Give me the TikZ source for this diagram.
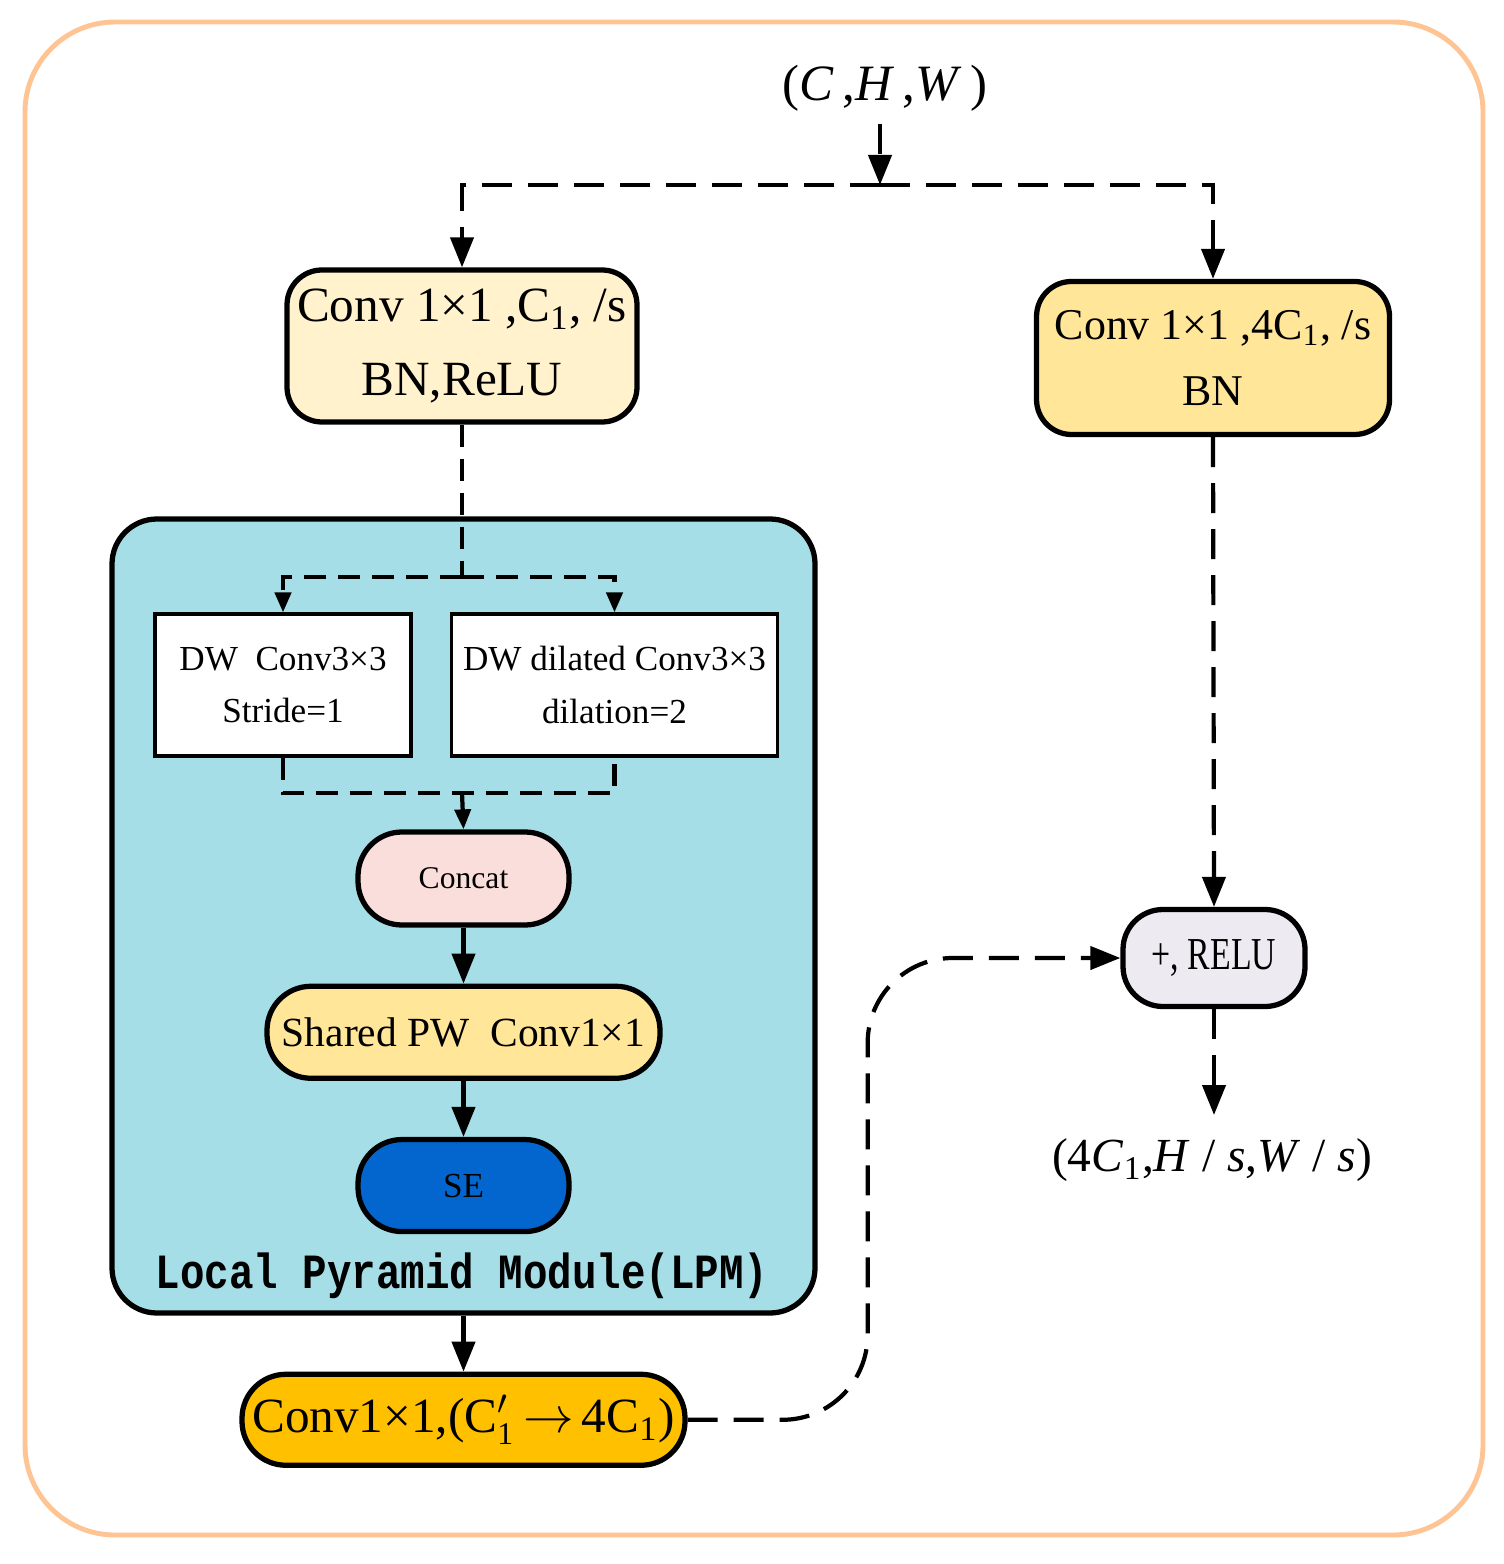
\documentclass[tikz,border=0pt]{standalone}
\usepackage{fontspec}
\setmainfont{Liberation Serif}
\newfontfamily\lpmfont{Liberation Mono}[FakeStretch=0.83]
\newfontfamily\narrowfont{Liberation Serif}[FakeStretch=0.74]
\usetikzlibrary{arrows.meta,positioning,calc}
\definecolor{FramePeach}{RGB}{255,196,148}
\definecolor{CreamFill}{RGB}{255,242,204}
\definecolor{GoldLight}{RGB}{255,230,153}
\definecolor{GoldDeep}{RGB}{255,192,0}
\definecolor{LpmBlue}{RGB}{166,222,232}
\definecolor{ConcatPink}{RGB}{250,222,220}
\definecolor{SeBlue}{RGB}{3,102,206}
\definecolor{ReluGrey}{RGB}{238,234,242}
\newcommand{\Cone}{C\textsubscript{1}}
\newcommand{\Cprime}{C$^{\prime}_{\hbox{\fontsize{9}{9}\selectfont 1}}$}

\begin{document}
\begin{tikzpicture}[
  x=0.1mm, y=-0.1mm,
  font=\fontsize{10}{15}\selectfont,
  blockbox/.style={draw, line width=1.5pt, rounded corners=3.5mm, align=center, inner sep=2pt},
  pill/.style={blockbox, rounded corners=4.4mm},
  dwbox/.style={draw, line width=0.9pt, fill=white, align=center, minimum height=14.2mm},
  arr/.style={-{Triangle[length=3mm,width=2.3mm]}, line width=1.2pt},
  dasharr/.style={arr, dash pattern=on 3mm off 1.6mm},
  dashline/.style={line width=1.2pt, dash pattern=on 2.2mm off 1.2mm},
  smallarr/.style={dashline, -{Triangle[length=2mm,width=1.6mm]}},
]
\useasboundingbox (0,0) rectangle (1503,1564);
\draw[FramePeach, line width=1.4pt, rounded corners=9mm] (25,22) rectangle (1483,1535);

% input and the two branches
\node[font=\fontsize{14.5}{17}\selectfont] (inp) at (885,88) {(\textit{C}\,,\textit{H}\,,\textit{W}\,)};
\coordinate (split) at (880,185);
\node[blockbox, fill=CreamFill, minimum width=35mm, minimum height=15.2mm,
      font=\fontsize{14}{21}\selectfont] (conv1) at (462,346) {Conv 1×1 ,\Cone, /s\\BN,ReLU};
\node[blockbox, fill=GoldLight, minimum width=35.3mm, minimum height=15.3mm,
      font=\fontsize{12.5}{19}\selectfont] (conv2) at (1213,358) {Conv 1×1 ,4\Cone, /s\\BN};

% local pyramid module
\node[draw, line width=1.5pt, fill=LpmBlue, rounded corners=4.5mm,
      minimum width=70.3mm, minimum height=79.4mm] (lpm) at (463.5,916) {};
\node[font=\lpmfont\bfseries\fontsize{14}{16}\selectfont] (lpmlabel) at (462,1276) {Local Pyramid Module(LPM)};
\node[dwbox, minimum width=25.6mm] (dw1) at (283,685) {DW\ \ Conv3×3\\Stride=1};
\node[dwbox, minimum width=32.5mm] (dw2) at (614.5,685) {DW dilated Conv3×3\\dilation=2};
\coordinate (lsplit) at (462,577);
\coordinate (lmerge) at (462,793);
\node[pill, fill=ConcatPink, minimum width=21.1mm, minimum height=9.3mm,
      font=\fontsize{9}{11}\selectfont] (concat) at (463.5,878.5) {Concat};
\node[pill, fill=GoldLight, minimum width=39.3mm, minimum height=9.2mm,
      font=\fontsize{11.8}{14}\selectfont, below=5.6mm of concat] (shared) {Shared PW\ \ Conv1×1};
\node[pill, fill=SeBlue, minimum width=21.1mm, minimum height=9.2mm,
      below=5.6mm of shared] (se) {SE};
\node[pill, fill=GoldDeep, minimum width=44.3mm, minimum height=9.1mm,
      font=\fontsize{14}{16}\selectfont, below=5.6mm of lpm] (convout) {Conv1×1,(\Cprime\,$\rightarrow$\,4\Cone)};

% merge and output
\node[pill, fill=ReluGrey, rounded corners=4mm, minimum width=18.2mm, minimum height=9.7mm,
      font=\narrowfont\fontsize{13}{15}\selectfont] (relu) at (1214,958) {+, RELU};
\coordinate (outend) at (1214,1115);
\node[font=\fontsize{13.5}{16}\selectfont] (outp) at (1212,1160)
  {(4\textit{C}\textsubscript{1},\textit{H} / \textit{s},\textit{W} / \textit{s})};

\draw[dasharr] (split |- inp.south) -- (split);
\draw[dasharr] (split) -| (conv1.north);
\draw[dasharr] (split) -| (conv2.north);
\draw[dashline] (conv1.south) -- (lsplit);
\draw[smallarr] (lsplit) -| (dw1.north);
\draw[smallarr] (lsplit) -| (dw2.north);
\draw[dashline] (dw1.south) |- (lmerge) -| (dw2.south);
\draw[-{Triangle[length=2mm,width=1.6mm]}, line width=1.2pt] (lmerge) -- (concat.north);
\draw[arr] (concat) -- (shared);
\draw[arr] (shared) -- (se);
\draw[arr] (lpm.south) -- (convout.north);
\draw[dasharr, rounded corners=8.5mm] (convout.east) -- ++(18mm,0) |- (relu.west);
\draw[dasharr] (conv2.south) -- (relu.north);
\draw[dasharr] (relu.south) -- (outend);
\end{tikzpicture}
\end{document}
